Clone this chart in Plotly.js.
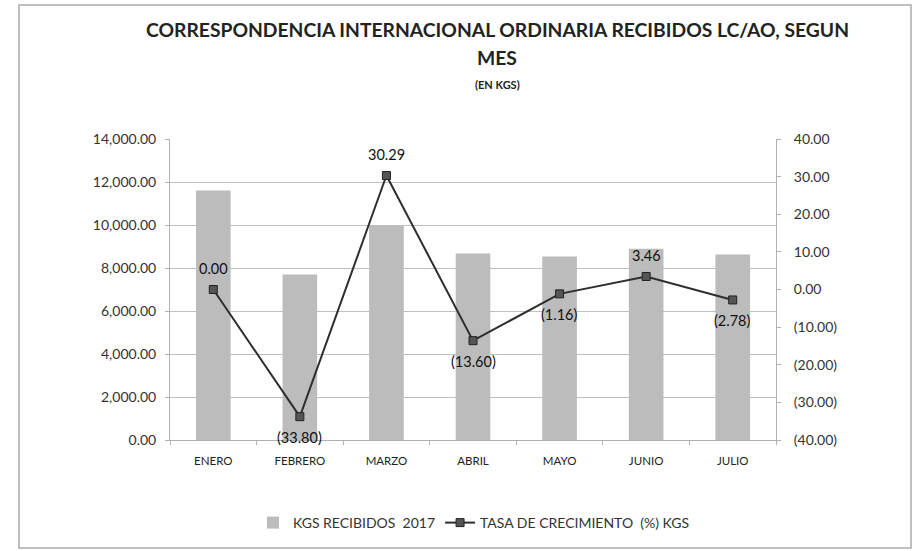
<!DOCTYPE html>
<html><head><meta charset="utf-8">
<script src="https://cdn.plot.ly/plotly-3.0.1.min.js"></script>
<style>html,body{margin:0;padding:0;background:#fff}#chart{width:917px;height:551px}</style>
</head><body><div id="chart"></div>
<script>
const months = ["ENERO","FEBRERO","MARZO","ABRIL","MAYO","JUNIO","JULIO"];
const kgs2017 = [11600, 7700, 10000, 8680, 8540, 8900, 8630];
const growth = [0.00, -33.80, 30.29, -13.60, -1.16, 3.46, -2.78];
const labelAbove = [true,false,true,false,false,true,false];
const rightTicks = [40,30,20,10,0,-10,-20,-30,-40];

function fmt(v){const s=Math.abs(v).toFixed(2);return v<0?"("+s+")":s;}

const font = "Lato, 'Open Sans', sans-serif";
const L=170,R=776,T=139,B=440;
const W=R-L,H=B-T;
function px(x){return (x-L)/W;}
function py(y){return (B-y)/H;}

const traces=[
 {type:"bar",x:months,y:kgs2017,name:"KGS RECIBIDOS  2017",marker:{color:"#bcbcbc"},yaxis:"y"},
 {type:"scatter",mode:"lines+markers",x:months,y:growth,yaxis:"y2",name:"TASA DE CRECIMIENTO  (%) KGS",
  line:{color:"#2e2e2e",width:2},marker:{symbol:"square",size:8,color:"#555",line:{color:"#222",width:1}}}
];
const dataLabels = months.map((m,i)=>({xref:"x",yref:"y2",x:m,y:growth[i],text:fmt(growth[i]),showarrow:false,
  yshift:labelAbove[i]?21:-21,font:{family:font,size:14.5,color:"#111"}}));
const layout={
 width:917,height:551,margin:{l:L,r:917-R,t:T,b:551-B},
 paper_bgcolor:"#fff",plot_bgcolor:"#fff",showlegend:true,bargap:0.6,
 font:{family:font,color:"#333"},
 xaxis:{showgrid:false,showline:true,linecolor:"#b0b0b0",ticks:"outside",tickson:"boundaries",ticklen:4,tickcolor:"#b0b0b0",
   tickfont:{size:11.5,color:"#222"},ticklabelstandoff:10,fixedrange:true},
 yaxis:{range:[0,14000],dtick:2000,tickformat:",.2f",showgrid:true,gridcolor:"#c0c0c0",showline:true,linecolor:"#b0b0b0",
   ticks:"outside",ticklen:4,tickcolor:"#b0b0b0",tickfont:{size:14,color:"#333"},ticklabelstandoff:6,zeroline:false},
 yaxis2:{overlaying:"y",side:"right",range:[-40,40],tickvals:rightTicks,ticktext:rightTicks.map(fmt),showgrid:false,
   showline:true,linecolor:"#b0b0b0",ticks:"outside",ticklen:4,tickcolor:"#b0b0b0",tickfont:{size:14,color:"#333"},ticklabelstandoff:10,zeroline:false},
 legend:{orientation:"h",x:px(474),xanchor:"center",y:py(523),yanchor:"middle",font:{size:14,color:"#333"},traceorder:"normal"},
 annotations:[
  {xref:"paper",yref:"paper",x:px(497),y:py(30),text:"<b>CORRESPONDENCIA INTERNACIONAL ORDINARIA RECIBIDOS LC/AO, SEGUN</b>",showarrow:false,font:{size:19.3,color:"#222",family:font},xanchor:"center",yanchor:"middle"},
  {xref:"paper",yref:"paper",x:px(497),y:py(58),text:"<b>MES</b>",showarrow:false,font:{size:19.3,color:"#222",family:font},xanchor:"center",yanchor:"middle"},
  {xref:"paper",yref:"paper",x:px(497),y:py(85),text:"<b>(EN KGS)</b>",showarrow:false,font:{size:11,color:"#222",family:font},xanchor:"center",yanchor:"middle"}
 ].concat(dataLabels),
 shapes:[{type:"rect",xref:"paper",yref:"paper",x0:px(19),x1:px(911),y0:py(548),y1:py(5),line:{color:"#aaa",width:1.5}}]
};
Plotly.newPlot("chart",traces,layout,{displayModeBar:false,staticPlot:true});
</script></body></html>
